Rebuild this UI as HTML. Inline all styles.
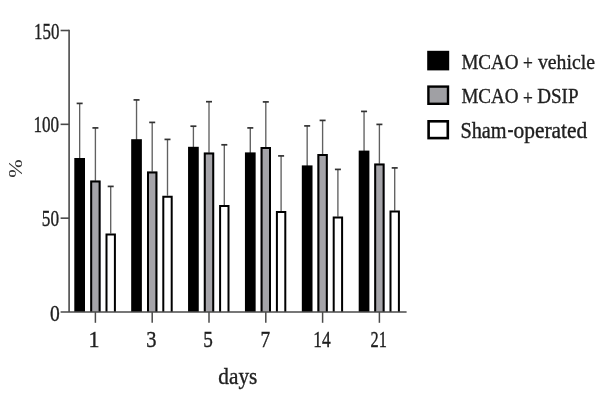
<!DOCTYPE html>
<html><head><meta charset="utf-8"><style>
html,body{margin:0;padding:0;background:#fff;width:600px;height:400px;overflow:hidden}
svg{display:block}
text{font-family:"Liberation Serif",serif;fill:#202020;stroke:#202020;stroke-width:0.35px}
</style></head><body>
<svg width="600" height="400" viewBox="0 0 600 400">
<defs><filter id="b" filterUnits="userSpaceOnUse" x="0" y="0" width="600" height="400"><feGaussianBlur stdDeviation="0.5"/></filter></defs>
<rect width="600" height="400" fill="#fff"/>
<g filter="url(#b)">
<line x1="79.65" y1="103.40" x2="79.65" y2="159.00" stroke="#606060" stroke-width="1.35"/>
<line x1="76.65" y1="103.40" x2="82.65" y2="103.40" stroke="#333" stroke-width="1.7"/>
<rect x="74.30" y="158.00" width="10.7" height="154.00" fill="#000"/>
<line x1="95.40" y1="127.90" x2="95.40" y2="181.60" stroke="#606060" stroke-width="1.35"/>
<line x1="92.40" y1="127.90" x2="98.40" y2="127.90" stroke="#333" stroke-width="1.7"/>
<rect x="90.20" y="180.60" width="10.40" height="131.40" fill="#a5a4a9"/>
<path d="M91.20,312.0 V181.60 H99.60 V312.0" fill="none" stroke="#000" stroke-width="2.0"/>
<line x1="110.70" y1="186.40" x2="110.70" y2="234.50" stroke="#606060" stroke-width="1.35"/>
<line x1="107.70" y1="186.40" x2="113.70" y2="186.40" stroke="#333" stroke-width="1.7"/>
<rect x="105.50" y="233.50" width="10.40" height="78.50" fill="#fff"/>
<path d="M106.50,312.0 V234.50 H114.90 V312.0" fill="none" stroke="#000" stroke-width="2.0"/>
<line x1="136.53" y1="99.90" x2="136.53" y2="140.20" stroke="#606060" stroke-width="1.35"/>
<line x1="133.53" y1="99.90" x2="139.53" y2="99.90" stroke="#333" stroke-width="1.7"/>
<rect x="131.18" y="139.20" width="10.7" height="172.80" fill="#000"/>
<line x1="152.20" y1="122.40" x2="152.20" y2="172.40" stroke="#606060" stroke-width="1.35"/>
<line x1="149.20" y1="122.40" x2="155.20" y2="122.40" stroke="#333" stroke-width="1.7"/>
<rect x="147.00" y="171.40" width="10.40" height="140.60" fill="#a5a4a9"/>
<path d="M148.00,312.0 V172.40 H156.40 V312.0" fill="none" stroke="#000" stroke-width="2.0"/>
<line x1="167.50" y1="139.40" x2="167.50" y2="196.70" stroke="#606060" stroke-width="1.35"/>
<line x1="164.50" y1="139.40" x2="170.50" y2="139.40" stroke="#333" stroke-width="1.7"/>
<rect x="162.30" y="195.70" width="10.40" height="116.30" fill="#fff"/>
<path d="M163.30,312.0 V196.70 H171.70 V312.0" fill="none" stroke="#000" stroke-width="2.0"/>
<line x1="193.41" y1="126.20" x2="193.41" y2="147.80" stroke="#606060" stroke-width="1.35"/>
<line x1="190.41" y1="126.20" x2="196.41" y2="126.20" stroke="#333" stroke-width="1.7"/>
<rect x="188.06" y="146.80" width="10.7" height="165.20" fill="#000"/>
<line x1="209.00" y1="101.70" x2="209.00" y2="153.60" stroke="#606060" stroke-width="1.35"/>
<line x1="206.00" y1="101.70" x2="212.00" y2="101.70" stroke="#333" stroke-width="1.7"/>
<rect x="203.80" y="152.60" width="10.40" height="159.40" fill="#a5a4a9"/>
<path d="M204.80,312.0 V153.60 H213.20 V312.0" fill="none" stroke="#000" stroke-width="2.0"/>
<line x1="224.30" y1="144.80" x2="224.30" y2="206.00" stroke="#606060" stroke-width="1.35"/>
<line x1="221.30" y1="144.80" x2="227.30" y2="144.80" stroke="#333" stroke-width="1.7"/>
<rect x="219.10" y="205.00" width="10.40" height="107.00" fill="#fff"/>
<path d="M220.10,312.0 V206.00 H228.50 V312.0" fill="none" stroke="#000" stroke-width="2.0"/>
<line x1="250.29" y1="127.90" x2="250.29" y2="153.40" stroke="#606060" stroke-width="1.35"/>
<line x1="247.29" y1="127.90" x2="253.29" y2="127.90" stroke="#333" stroke-width="1.7"/>
<rect x="244.94" y="152.40" width="10.7" height="159.60" fill="#000"/>
<line x1="265.80" y1="101.90" x2="265.80" y2="148.00" stroke="#606060" stroke-width="1.35"/>
<line x1="262.80" y1="101.90" x2="268.80" y2="101.90" stroke="#333" stroke-width="1.7"/>
<rect x="260.60" y="147.00" width="10.40" height="165.00" fill="#a5a4a9"/>
<path d="M261.60,312.0 V148.00 H270.00 V312.0" fill="none" stroke="#000" stroke-width="2.0"/>
<line x1="281.10" y1="155.90" x2="281.10" y2="212.00" stroke="#606060" stroke-width="1.35"/>
<line x1="278.10" y1="155.90" x2="284.10" y2="155.90" stroke="#333" stroke-width="1.7"/>
<rect x="275.90" y="211.00" width="10.40" height="101.00" fill="#fff"/>
<path d="M276.90,312.0 V212.00 H285.30 V312.0" fill="none" stroke="#000" stroke-width="2.0"/>
<line x1="307.17" y1="125.90" x2="307.17" y2="166.40" stroke="#606060" stroke-width="1.35"/>
<line x1="304.17" y1="125.90" x2="310.17" y2="125.90" stroke="#333" stroke-width="1.7"/>
<rect x="301.82" y="165.40" width="10.7" height="146.60" fill="#000"/>
<line x1="322.60" y1="120.40" x2="322.60" y2="155.00" stroke="#606060" stroke-width="1.35"/>
<line x1="319.60" y1="120.40" x2="325.60" y2="120.40" stroke="#333" stroke-width="1.7"/>
<rect x="317.40" y="154.00" width="10.40" height="158.00" fill="#a5a4a9"/>
<path d="M318.40,312.0 V155.00 H326.80 V312.0" fill="none" stroke="#000" stroke-width="2.0"/>
<line x1="337.90" y1="169.40" x2="337.90" y2="217.60" stroke="#606060" stroke-width="1.35"/>
<line x1="334.90" y1="169.40" x2="340.90" y2="169.40" stroke="#333" stroke-width="1.7"/>
<rect x="332.70" y="216.60" width="10.40" height="95.40" fill="#fff"/>
<path d="M333.70,312.0 V217.60 H342.10 V312.0" fill="none" stroke="#000" stroke-width="2.0"/>
<line x1="364.05" y1="111.40" x2="364.05" y2="151.60" stroke="#606060" stroke-width="1.35"/>
<line x1="361.05" y1="111.40" x2="367.05" y2="111.40" stroke="#333" stroke-width="1.7"/>
<rect x="358.70" y="150.60" width="10.7" height="161.40" fill="#000"/>
<line x1="379.40" y1="124.40" x2="379.40" y2="164.60" stroke="#606060" stroke-width="1.35"/>
<line x1="376.40" y1="124.40" x2="382.40" y2="124.40" stroke="#333" stroke-width="1.7"/>
<rect x="374.20" y="163.60" width="10.40" height="148.40" fill="#a5a4a9"/>
<path d="M375.20,312.0 V164.60 H383.60 V312.0" fill="none" stroke="#000" stroke-width="2.0"/>
<line x1="394.70" y1="167.90" x2="394.70" y2="211.60" stroke="#606060" stroke-width="1.35"/>
<line x1="391.70" y1="167.90" x2="397.70" y2="167.90" stroke="#333" stroke-width="1.7"/>
<rect x="389.50" y="210.60" width="10.40" height="101.40" fill="#fff"/>
<path d="M390.50,312.0 V211.60 H398.90 V312.0" fill="none" stroke="#000" stroke-width="2.0"/>
<line x1="69.1" y1="29.7" x2="69.1" y2="312.0" stroke="#4a4a4a" stroke-width="1.6"/>
<line x1="60.6" y1="312.0" x2="406.6" y2="312.0" stroke="#4a4a4a" stroke-width="1.7"/>
<line x1="60.6" y1="30.50" x2="69.1" y2="30.50" stroke="#4a4a4a" stroke-width="1.6"/>
<line x1="60.6" y1="124.33" x2="69.1" y2="124.33" stroke="#4a4a4a" stroke-width="1.6"/>
<line x1="60.6" y1="218.17" x2="69.1" y2="218.17" stroke="#4a4a4a" stroke-width="1.6"/>
<line x1="95.40" y1="312.0" x2="95.40" y2="322.8" stroke="#4a4a4a" stroke-width="1.5"/>
<line x1="152.20" y1="312.0" x2="152.20" y2="322.8" stroke="#4a4a4a" stroke-width="1.5"/>
<line x1="209.00" y1="312.0" x2="209.00" y2="322.8" stroke="#4a4a4a" stroke-width="1.5"/>
<line x1="265.80" y1="312.0" x2="265.80" y2="322.8" stroke="#4a4a4a" stroke-width="1.5"/>
<line x1="322.60" y1="312.0" x2="322.60" y2="322.8" stroke="#4a4a4a" stroke-width="1.5"/>
<line x1="379.40" y1="312.0" x2="379.40" y2="322.8" stroke="#4a4a4a" stroke-width="1.5"/>
<rect x="427.2" y="50.8" width="22" height="19.6" fill="#000"/>
<rect x="428.4" y="86.6" width="19.6" height="17.2" fill="#a0a0a4" stroke="#000" stroke-width="2.4"/>
<rect x="428.6" y="121.3" width="19.2" height="16.8" fill="#fff" stroke="#000" stroke-width="2.6"/>
<text x="34.08" y="38.60" font-size="22.70" textLength="25.29" lengthAdjust="spacingAndGlyphs">150</text>
<text x="33.46" y="132.30" font-size="22.70" textLength="25.62" lengthAdjust="spacingAndGlyphs">100</text>
<text x="41.87" y="226.30" font-size="22.70" textLength="17.22" lengthAdjust="spacingAndGlyphs">50</text>
<text x="50.12" y="320.80" font-size="22.70" textLength="9.76" lengthAdjust="spacingAndGlyphs">0</text>
<text x="88.47" y="347.00" font-size="22.70" textLength="11.00" lengthAdjust="spacingAndGlyphs">1</text>
<text x="146.13" y="347.00" font-size="22.70" textLength="10.24" lengthAdjust="spacingAndGlyphs">3</text>
<text x="203.30" y="347.00" font-size="22.70" textLength="9.62" lengthAdjust="spacingAndGlyphs">5</text>
<text x="260.50" y="347.00" font-size="22.70" textLength="9.63" lengthAdjust="spacingAndGlyphs">7</text>
<text x="313.34" y="347.00" font-size="22.70" textLength="17.36" lengthAdjust="spacingAndGlyphs">14</text>
<text x="370.50" y="347.00" font-size="22.70" textLength="16.33" lengthAdjust="spacingAndGlyphs">21</text>
<text x="218.35" y="384.20" font-size="22.70" textLength="38.95" lengthAdjust="spacingAndGlyphs">days</text>
<text x="461.43" y="68.80" font-size="21.60" textLength="57.15" lengthAdjust="spacingAndGlyphs">MCAO</text>
<text x="522.93" y="70.10" font-size="21.60" textLength="9.84" lengthAdjust="spacingAndGlyphs">+</text>
<text x="537.90" y="68.80" font-size="21.60" textLength="57.14" lengthAdjust="spacingAndGlyphs">vehicle</text>
<text x="461.43" y="103.40" font-size="21.60" textLength="57.15" lengthAdjust="spacingAndGlyphs">MCAO</text>
<text x="522.93" y="104.70" font-size="21.60" textLength="9.84" lengthAdjust="spacingAndGlyphs">+</text>
<text x="537.23" y="103.40" font-size="21.60" textLength="41.29" lengthAdjust="spacingAndGlyphs">DSIP</text>
<text x="460.38" y="137.90" font-size="22.40" textLength="46.29" lengthAdjust="spacingAndGlyphs">Sham</text>
<text x="507.38" y="136.90" font-size="22.40" textLength="6.02" lengthAdjust="spacingAndGlyphs">-</text>
<text x="513.44" y="137.90" font-size="22.40" textLength="73.83" lengthAdjust="spacingAndGlyphs">operated</text>
<text transform="translate(22.03,177.66) scale(0.809,1) rotate(-90)" font-size="22.7" textLength="18.39" lengthAdjust="spacingAndGlyphs" style="stroke-width:0;fill:#333">%</text>
</g>
</svg>
</body></html>
